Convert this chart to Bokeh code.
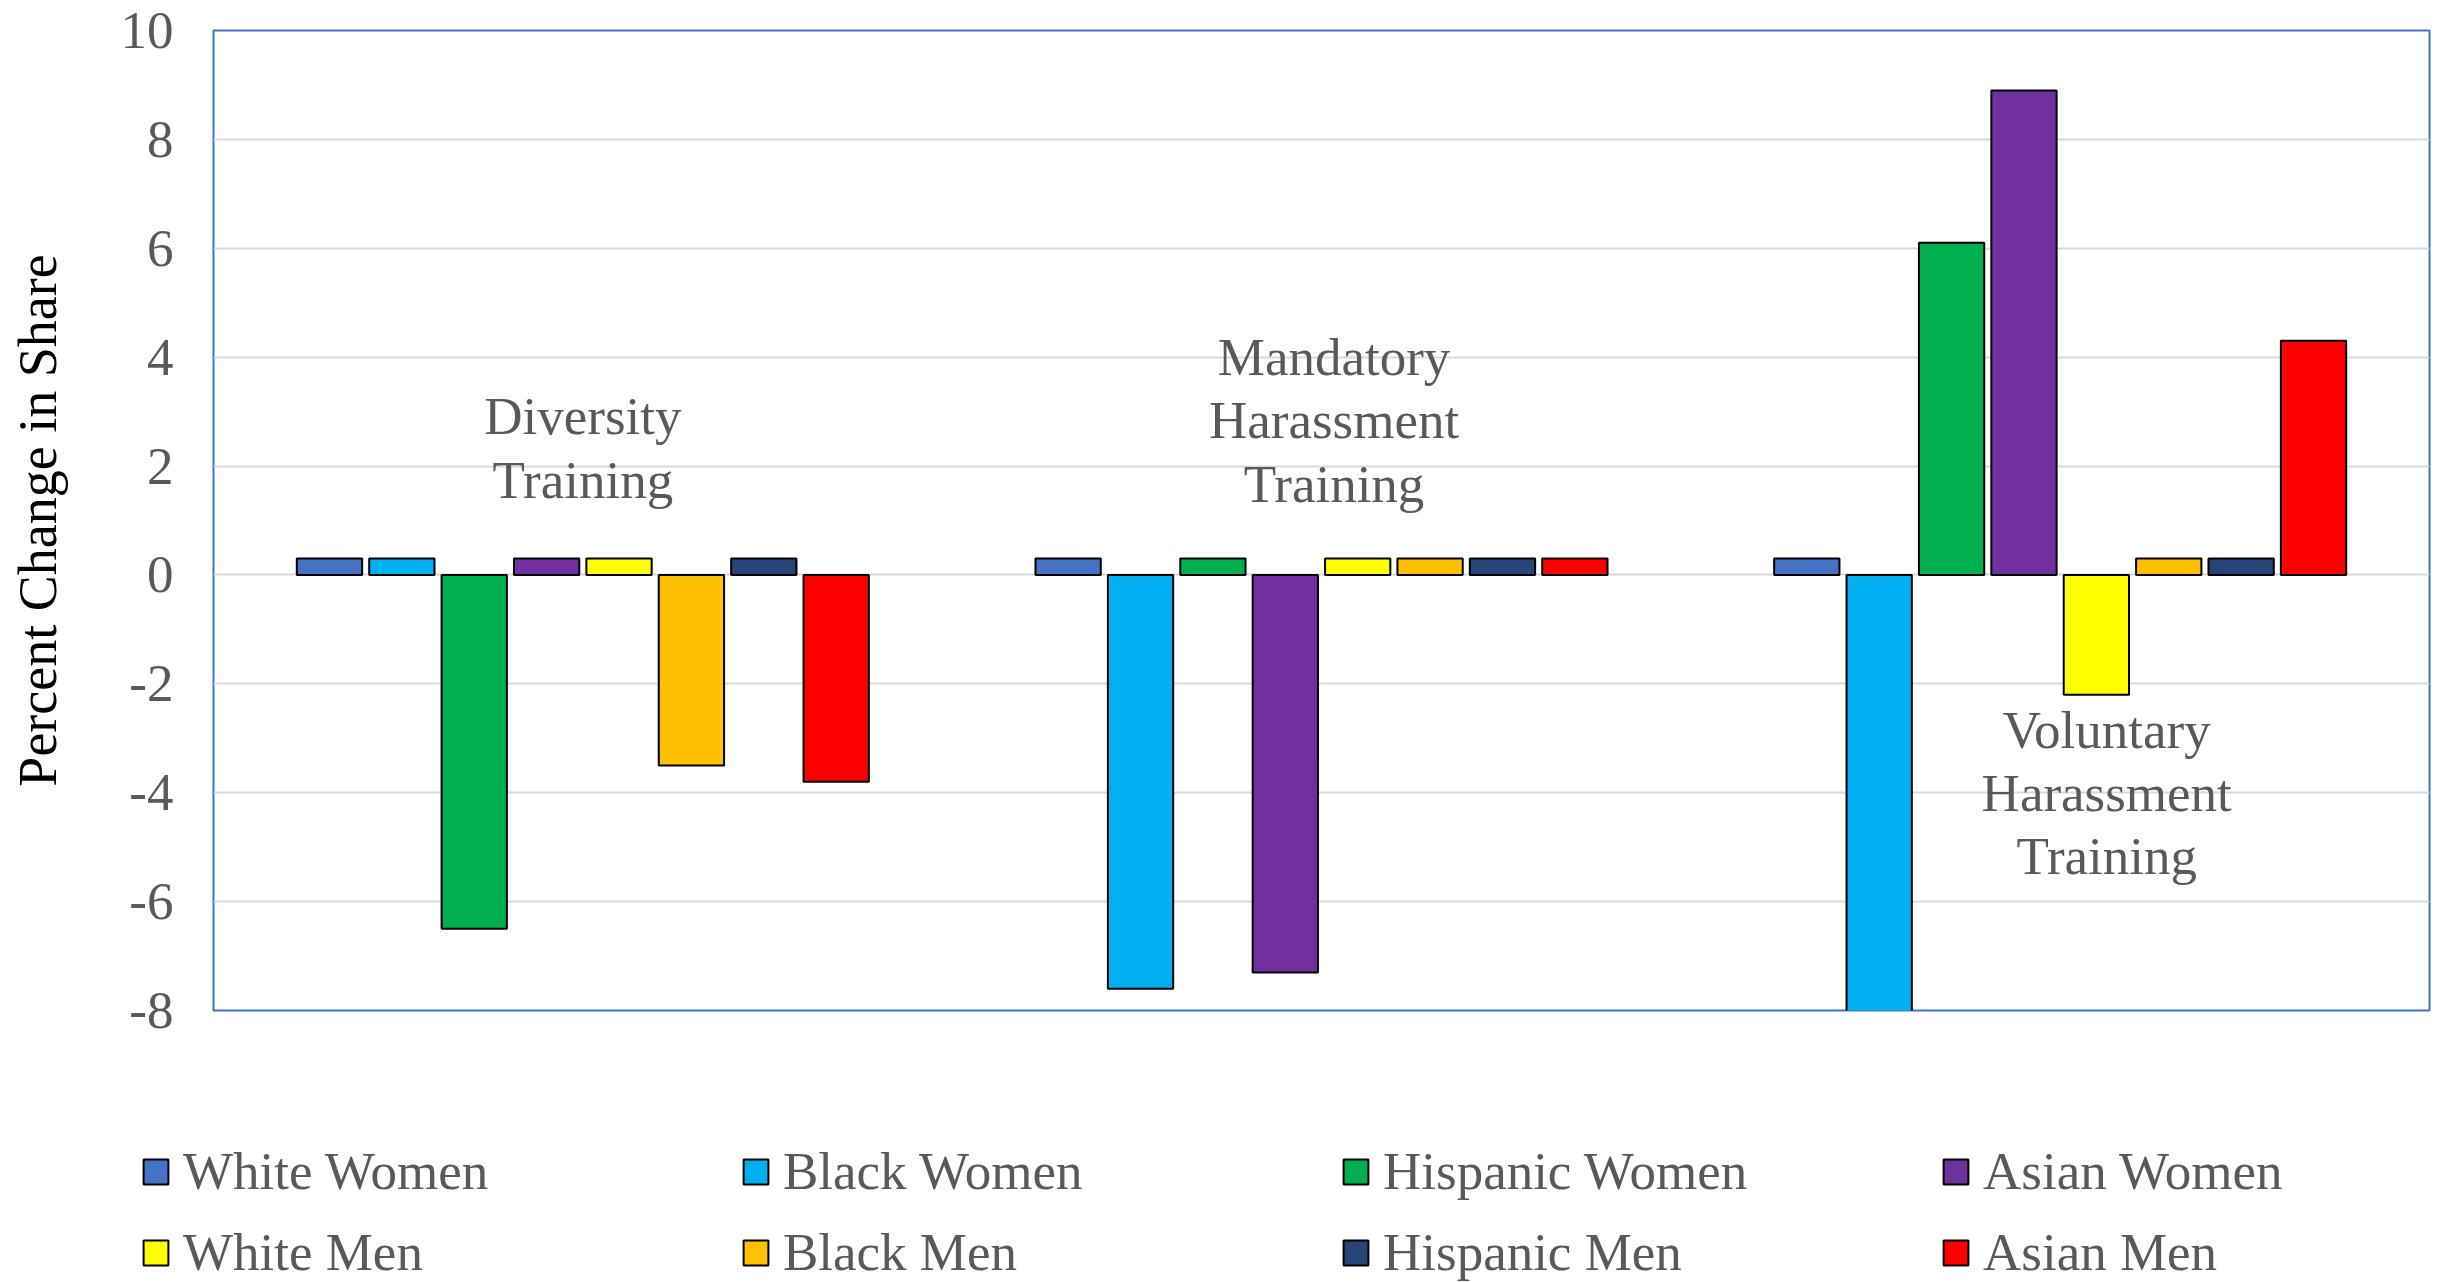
from bokeh.plotting import figure
from bokeh.models import FactorRange, Range1d, Legend, LegendItem, ColumnDataSource, FixedTicker
from bokeh.transform import dodge
from bokeh.core.properties import value
from bokeh.embed import file_html
from bokeh.resources import INLINE

# ---- data ----
groups = ["Diversity Training", "Mandatory Harassment Training", "Voluntary Harassment Training"]
series = ["White Women", "Black Women", "Hispanic Women", "Asian Women",
          "White Men", "Black Men", "Hispanic Men", "Asian Men"]
colors = ["#4472C4", "#00B0F0", "#00B050", "#7030A0",
          "#FFFF00", "#FFC000", "#264478", "#FF0000"]

white_women = [0.3, 0.3, 0.3]
black_women = [0.3, -7.6, -8.3]
hispanic_women = [-6.5, 0.3, 6.1]
asian_women = [0.3, -7.3, 8.9]
white_men = [0.3, 0.3, -2.2]
black_men = [-3.5, 0.3, 0.3]
hispanic_men = [0.3, 0.3, 0.3]
asian_men = [-3.8, 0.3, 4.3]
values_by_series = [white_women, black_women, hispanic_women, asian_women,
                    white_men, black_men, hispanic_men, asian_men]

y_ticks = [-8, -6, -4, -2, 0, 2, 4, 6, 8, 10]
y_tick_labels = ["-8", "-6", "-4", "-2", "0", "2", "4", "6", "8", "10"]
y_title = "Percent Change in Share"

annotation_texts = ["Diversity\nTraining", "Mandatory\nHarassment\nTraining",
                    "Voluntary\nHarassment\nTraining"]
annotation_dx = [0.0, 0.017, 0.063]
annotation_y = [2.33, 2.84, -4.0]

FONT = "Liberation Serif"
GRAY = "#595959"
W = 2432

p = figure(width=W, height=1042, output_backend="svg", toolbar_location=None,
           x_range=FactorRange(factors=groups, range_padding=0),
           y_range=Range1d(-8, 10), x_axis_location=None,
           min_border_left=213, min_border_top=30, min_border_right=3,
           min_border_bottom=32)

p.outline_line_color = "#4472C4"
p.outline_line_width = 2
p.xgrid.visible = False
p.ygrid.grid_line_color = "#D9D9D9"
p.ygrid.grid_line_width = 2
p.yaxis.ticker = FixedTicker(ticks=y_ticks)
p.yaxis.major_label_overrides = {t: s for t, s in zip(y_ticks, y_tick_labels)}
p.yaxis.axis_line_color = None
p.yaxis.major_tick_line_color = None
p.yaxis.minor_tick_line_color = None
p.yaxis.major_tick_out = 0
p.yaxis.major_tick_in = 0
p.yaxis.minor_tick_out = 0
p.yaxis.major_label_standoff = 40
p.yaxis.major_label_text_font = FONT
p.yaxis.major_label_text_font_size = "53px"
p.yaxis.major_label_text_color = GRAY
p.yaxis.axis_label = y_title
p.yaxis.axis_label_text_font = FONT
p.yaxis.axis_label_text_font_size = "54px"
p.yaxis.axis_label_text_font_style = "normal"
p.yaxis.axis_label_text_color = "#000000"
p.yaxis.axis_label_standoff = 50

n = len(series)
step = 0.098
bar_w = 0.0884
sources = []
for i, (name, vals, col) in enumerate(zip(series, values_by_series, colors)):
    src = ColumnDataSource(dict(group=groups, v=vals))
    sources.append(src)
    p.vbar(x=dodge("group", (i - (n - 1) / 2) * step, range=p.x_range), top="v", bottom=0,
           width=bar_w, source=src, fill_color=col, line_color="black", line_width=2)

ann_x = [k + 0.5 + dx for k, dx in enumerate(annotation_dx)]
p.text(x=ann_x, y=annotation_y, text=annotation_texts, text_align="center",
       text_baseline="middle", text_font=value(FONT), text_font_size="53px",
       text_color=GRAY, text_line_height=1.09)

# ---- legend strip (separate root below the chart) ----
lg = figure(width=W, height=240, output_backend="svg", toolbar_location=None,
            x_range=FactorRange(factors=groups, range_padding=0), y_range=Range1d(-8, 10),
            x_axis_location=None, y_axis_location=None,
            min_border_left=0, min_border_right=0, min_border_top=0, min_border_bottom=0)
lg.outline_line_color = None
lg.grid.visible = False
rends = {}
for i, (name, src, col) in enumerate(zip(series, sources, colors)):
    r = lg.vbar(x=dodge("group", (i - (n - 1) / 2) * step, range=lg.x_range), top="v", bottom=0,
                width=bar_w, source=src, fill_color=col, line_color="black", line_width=2,
                visible=False)
    rends[name] = r

# column-major fill: women on the first row, men on the second
order = ["White Women", "White Men", "Black Women", "Black Men",
         "Hispanic Women", "Hispanic Men", "Asian Women", "Asian Men"]
items = [LegendItem(label=name, renderers=[rends[name]]) for name in order]

legend = Legend(items=items, ncols=4, location=(140, 0),
                glyph_width=31, glyph_height=31, label_standoff=12,
                label_width=536, label_height=60, spacing=21, padding=0, margin=0,
                label_text_font=FONT, label_text_font_size="53px", label_text_color=GRAY,
                border_line_color=None, background_fill_alpha=0,
                inactive_fill_alpha=0)
lg.add_layout(legend, "center")

open("out.html", "w").write(file_html([p, lg], INLINE))
